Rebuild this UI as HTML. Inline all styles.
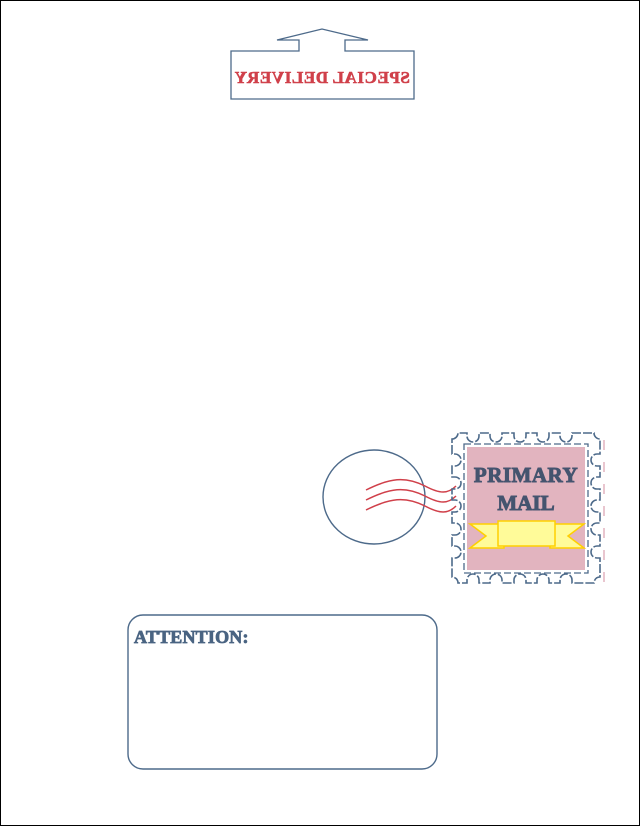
<!DOCTYPE html>
<html><head><meta charset="utf-8"><style>
html,body{margin:0;padding:0;background:#fff}
svg{display:block}
</style></head><body>
<svg width="640" height="826" viewBox="0 0 640 826" xmlns="http://www.w3.org/2000/svg">
<rect x="0.5" y="0.5" width="639" height="825" fill="#fff" stroke="#000" stroke-width="1"/>
<!-- special delivery -->
<path d="M231,51 L299,51 L299,40 L277,40 L322,29 L368,40 L345,40 L345,51 L414,51 L414,99 L231,99 Z" fill="#fff" stroke="#4d6a8a" stroke-width="1.3"/>
<g transform="translate(644,0) scale(-1,1)">
<text x="322" y="83" text-anchor="middle" font-family="Liberation Serif, serif" font-weight="bold" font-size="17" fill="#d0404a" stroke="#d0404a" stroke-width="0.6" letter-spacing="0.6">SPECIAL DELIVERY</text>
</g>
<!-- postmark -->
<ellipse cx="374" cy="497" rx="51" ry="47" fill="none" stroke="#4d6a8a" stroke-width="1.4"/>
<g fill="none" stroke="#d0404a" stroke-width="1.5">
<path d="M366,490 C390,478 405,476 425,486 C440,494 448,494 456,486"/>
<path d="M366,500 C390,488 405,486 425,496 C440,504 448,504 456,496"/>
<path d="M366,510 C390,498 405,496 425,506 C440,514 448,514 456,506"/>
</g>
<!-- stamp -->
<line x1="604" y1="440" x2="604" y2="585" stroke="#e2b4bf" stroke-width="1.5" stroke-dasharray="10 12"/>
<rect x="467" y="447" width="118" height="123" fill="#e2b4bf"/>
<rect x="464" y="444" width="124" height="129" fill="none" stroke="#4d6a8a" stroke-width="1.3" stroke-dasharray="7 3"/>
<path d="M452,439 a6,6 0 0 0 6,-6 L467,433 l0,3 a6,6 0 0 0 12,0 l0,-3 L490,433 l0,3 a6,6 0 0 0 12,0 l0,-3 L514,433 l0,3 a6,6 0 0 0 12,0 l0,-3 L537,433 l0,3 a6,6 0 0 0 12,0 l0,-3 L560,433 l0,3 a6,6 0 0 0 12,0 l0,-3 L594,433 a6,6 0 0 0 6,6
L600,454 l-3,0 a6,6 0 0 0 0,12 l3,0 L600,477 l-3,0 a6,6 0 0 0 0,12 l3,0 L600,500 l-3,0 a6,6 0 0 0 0,12 l3,0 L600,523 l-3,0 a6,6 0 0 0 0,12 l3,0 L600,546 l-3,0 a6,6 0 0 0 0,12 l3,0 L600,577 a6,6 0 0 0 -6,6
L572,583 l0,-3 a6,6 0 0 0 -12,0 l0,3 L549,583 l0,-3 a6,6 0 0 0 -12,0 l0,3 L526,583 l0,-3 a6,6 0 0 0 -12,0 l0,3 L502,583 l0,-3 a6,6 0 0 0 -12,0 l0,3 L479,583 l0,-3 a6,6 0 0 0 -12,0 l0,3 L458,583 a6,6 0 0 0 -6,-6
L452,558 l3,0 a6,6 0 0 0 0,-12 l-3,0 L452,535 l3,0 a6,6 0 0 0 0,-12 l-3,0 L452,512 l3,0 a6,6 0 0 0 0,-12 l-3,0 L452,489 l3,0 a6,6 0 0 0 0,-12 l-3,0 L452,466 l3,0 a6,6 0 0 0 0,-12 l-3,0 Z" fill="none" stroke="#4d6a8a" stroke-width="1.6" stroke-dasharray="9 2"/>
<text x="526" y="482" text-anchor="middle" font-family="Liberation Serif, serif" font-weight="bold" font-size="21" fill="#45546f" stroke="#45546f" stroke-width="0.9" letter-spacing="0.5">PRIMARY</text>
<text x="526" y="510" text-anchor="middle" font-family="Liberation Serif, serif" font-weight="bold" font-size="21" fill="#45546f" stroke="#45546f" stroke-width="0.9">MAIL</text>
<g stroke="#ffd000" stroke-width="1.5" fill="#fffb99">
<path d="M470,524 L504,524 L504,548 L470,548 L486,536 Z"/>
<path d="M584,524 L550,524 L550,548 L584,548 L568,536 Z"/>
<rect x="498" y="521" width="57" height="25"/>
</g>
<!-- attention -->
<rect x="128" y="615" width="309" height="154" rx="15" fill="#fff" stroke="#4d6a8a" stroke-width="1.4"/>
<text x="134" y="643" font-family="Liberation Serif, serif" font-weight="bold" font-size="18" fill="#4a6482" stroke="#4a6482" stroke-width="0.8" letter-spacing="0.2">ATTENTION:</text>
</svg>
</body></html>
